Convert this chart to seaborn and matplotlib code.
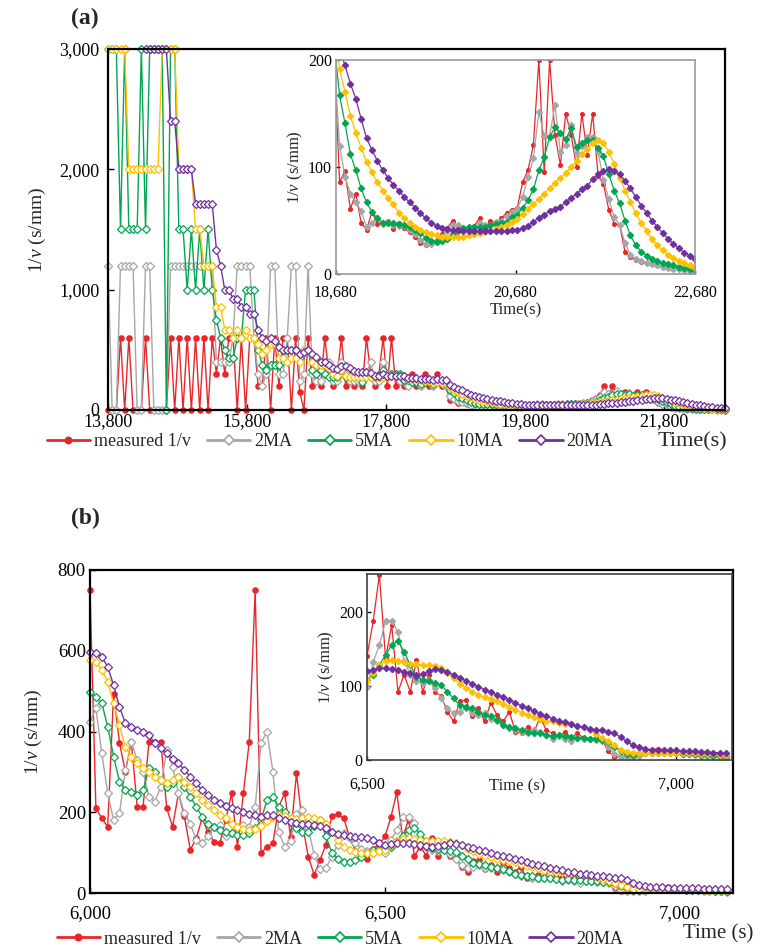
import numpy as np
import pandas as pd
import matplotlib
matplotlib.use("Agg")
import matplotlib.pyplot as plt
import seaborn as sns
from matplotlib.lines import Line2D

sns.set_theme(style="white")
plt.rcParams["font.family"] = ["Liberation Serif", "DejaVu Serif"]
plt.rcParams["mathtext.fontset"] = "custom"
plt.rcParams["mathtext.rm"] = "Liberation Serif"
plt.rcParams["mathtext.it"] = "Liberation Serif:italic"

NaN = float("nan")

# ---------------- data, panel (a): one sample every 60 s from 13,800 s ----------------
t_a_start, t_a_step = 13800, 60
measured_a = [0,0,0,600,0,600,0,0,0,600,
              0,0,0,0,0,600,0,600,0,600,
              0,600,0,600,0,600,300,600,300,600,
              600,0,600,0,600,600,200,200,600,0,
              600,200,600,600,0,600,150,0,600,200,
              300,200,600,300,200,300,600,200,300,200,
              300,200,600,300,200,300,600,200,600,200,
              300,200,200,300,200,200,300,200,200,300,
              200,200,86,96,61,75,48,41,58,47,
              48,50,42,48,43,39,35,29,27,30,
              32,37,43,50,43,42,41,45,52,42,
              50,48,52,57,60,62,86,97,121,200,
              95,200,130,102,150,130,100,150,111,150,
              92,84,60,47,46,21,16,13,11,10,
              9,8,7,6,5,5,4,3,2]
ma2_a = [1200,0,0,1200,1200,1200,1200,0,0,1200,
         1200,0,0,0,0,1200,1200,1200,1200,1200,
         1200,1200,1200,1200,1200,1200,400,400,400,400,
         600,1200,1200,1200,1200,600,300,200,300,1200,
         1200,300,300,600,1200,1200,240,300,1200,300,
         240,240,300,400,240,240,400,300,240,240,
         240,240,300,400,240,240,400,300,300,300,
         240,240,200,240,240,200,240,240,200,240,
         240,200,120,91,75,67,59,44,48,52,
         47,49,46,45,45,41,37,32,28,28,
         31,34,40,46,46,42,41,43,48,46,
         46,49,50,54,58,61,72,91,108,151,
         129,129,158,114,121,139,113,120,128,128,
         114,88,70,53,46,29,18,14,12,10,
         9,8,7,6,5,5,4,3,2]
ma5_a = [3000,3000,3000,1500,3000,1500,1500,1500,3000,1500,
         3000,3000,3000,3000,0,3000,3000,1500,1500,1000,
         1500,1000,1500,1000,1500,1000,750,600,500,429,
         429,600,600,1000,1000,1000,500,375,333,375,
         375,375,500,500,500,500,429,500,500,333,
         300,333,300,273,273,273,333,273,273,273,
         273,231,273,273,273,273,333,273,300,300,
         300,250,250,231,231,214,231,231,214,231,
         231,214,167,141,112,97,80,67,58,52,
         48,48,48,47,46,44,41,38,34,31,
         30,31,33,37,40,43,44,44,44,44,
         46,47,48,49,53,55,62,69,79,97,
         109,128,137,132,126,136,119,122,125,125,
         118,110,93,78,66,50,36,27,21,17,
         14,12,10,9,8,7,6,5,4]
ma10_a = [3000,3000,3000,3000,3000,2000,2000,2000,2000,2000,
          2000,2000,2000,3000,3000,3000,3000,2000,2000,2000,
          2000,1500,1500,1200,1200,1200,857,857,667,667,
          600,667,600,667,600,600,545,462,500,545,
          545,429,429,400,429,429,400,500,500,400,
          375,375,375,353,300,286,333,286,273,273,
          273,273,273,273,273,273,273,273,286,286,
          286,286,261,261,261,250,240,240,222,231,
          222,222,192,170,148,132,118,105,95,86,
          78,71,65,57,52,48,44,41,39,37,
          36,35,35,35,35,35,36,37,38,39,
          40,42,44,46,49,51,56,61,65,70,
          75,80,85,90,94,100,106,112,117,122,
          125,122,114,103,90,78,67,57,48,40,
          33,27,22,18,15,12,10,8,6]
ma20_a = [NaN,NaN,NaN,NaN,NaN,NaN,NaN,NaN,NaN,3000,
          3000,3000,3000,3000,3000,2400,2400,2000,2000,2000,
          2000,1714,1714,1714,1714,1714,1333,1200,1000,1000,
          923,923,857,857,800,800,667,600,571,600,
          571,522,500,500,500,500,462,480,500,462,
          444,400,400,375,353,343,364,364,353,324,
          316,316,316,308,286,279,300,279,279,279,
          279,279,267,267,267,261,255,255,250,255,
          250,250,210,195,178,164,145,127,116,106,
          97,90,83,78,72,67,62,57,52,48,
          45,43,42,41,41,40,40,40,40,40,
          40,40,40,40,41,41,43,45,49,52,
          55,59,61,63,67,71,75,79,82,89,
          93,96,98,96,93,87,80,72,64,57,
          50,44,38,33,28,24,20,17,14]

# ---------------- data, panel (b): one sample every 10 s from 6,000 s ----------------
t_b_start, t_b_step = 6000, 10
measured_b = [750,210,185,164,494,372,300,375,214,214,
              375,375,375,210,164,247,190,107,135,185,
              150,127,123,180,247,115,247,375,750,99,
              115,123,214,247,139,296,172,90,45,82,
              120,190,195,185,139,105,95,83,110,120,
              140,187,250,137,182,92,115,92,135,92,
              115,92,86,65,52,79,81,59,70,52,
              77,61,52,65,38,36,45,38,58,40,
              36,32,38,30,36,30,28,30,27,12,
              4,4,4,5,8,12,14,15,14,12,
              12,10,10,8,8,6,5,4,3]
ma2_b = [424,457,346,247,181,197,305,375,329,300,
         239,226,263,354,313,247,197,172,131,123,
         140,164,168,140,148,164,168,164,214,371,
         400,300,150,115,130,195,205,160,95,60,
         62,90,120,148,135,125,110,104,100,110,
         99,132,155,187,187,173,133,115,106,104,
         108,97,83,70,63,65,70,63,61,63,
         56,52,47,43,41,38,36,40,38,34,
         29,32,29,25,30,29,28,27,26,18,
         8,5,4,4,6,9,10,11,11,10,
         9,8,8,7,6,6,5,4,3]
ma5_b = [499,486,470,412,338,276,255,251,243,255,
         309,300,280,263,272,288,263,239,214,189,
         172,164,156,152,148,144,144,148,160,181,
         230,239,214,200,180,160,150,152,165,180,
         140,100,85,78,78,82,90,98,106,110,
         108,115,128,142,155,161,146,128,112,108,
         106,104,101,92,83,74,72,70,65,61,
         59,54,47,45,43,41,38,36,36,34,
         32,34,32,31,30,30,29,28,27,24,
         18,12,8,7,9,9,9,9,9,9,
         9,8,8,8,7,7,6,6,5]
ma10_b = [577,573,552,523,470,416,362,338,321,309,
          300,288,280,272,280,288,276,263,247,230,
          218,206,193,185,172,164,158,156,158,165,
          178,187,193,190,186,183,186,189,186,181,
          172,152,131,115,106,102,98,98,100,104,
          106,118,128,133,135,134,132,130,129,128,
          128,127,124,118,110,103,97,92,88,85,
          82,79,76,72,68,64,61,58,55,53,
          52,50,49,48,46,44,40,35,30,25,
          20,14,11,10,9,10,10,10,10,10,
          10,9,9,9,8,8,8,7,7]
ma20_b = [598,594,585,560,515,461,420,412,404,400,
          391,371,358,346,333,321,305,288,272,255,
          243,230,222,215,210,206,201,196,193,189,
          193,193,185,181,177,174,172,171,168,165,
          160,150,145,143,140,139,138,136,131,125,
          120,122,124,124,123,121,119,117,115,116,
          120,123,122,119,115,111,107,103,99,95,
          92,88,85,81,77,73,70,66,62,59,
          56,53,51,48,46,44,42,41,40,38,
          36,31,25,20,17,15,14,14,13,13,
          13,12,12,12,11,11,10,10,9]

series_names = ["measured 1/v", "2MA", "5MA", "10MA", "20MA"]
ticks_a_x = [13800, 15800, 17800, 19800, 21800]
ticks_a_y = [0, 1000, 2000, 3000]
ticks_ai_x = [18680, 20680, 22680]
ticks_ai_y = [0, 100, 200]
ticks_b_x = [6000, 6500, 7000]
ticks_b_y = [0, 200, 400, 600, 800]
ticks_bi_x = [6500, 7000]
ticks_bi_y = [0, 100, 200]

# ---------------- styling ----------------
colors = ["#E8262A", "#A6A6A6", "#00A651", "#FFC000", "#7030A0"]
markers = ["o", "D", "D", "D", "D"]

t_a = t_a_start + t_a_step * np.arange(len(measured_a))
t_b = t_b_start + t_b_step * np.arange(len(measured_b))
ser_a = [measured_a, ma2_a, ma5_a, ma10_a, ma20_a]
ser_b = [measured_b, ma2_b, ma5_b, ma10_b, ma20_b]

W, H = 762, 948
fig = plt.figure(figsize=(W / 100, H / 100), dpi=100)


def box(l, t, r, b):
    return [l / W, 1 - b / H, (r - l) / W, (b - t) / H]


def draw(ax, t, series, ms, lw, open_face, clip):
    for y, c, m in zip(series, colors, markers):
        df = pd.DataFrame({"t": t, "v": np.asarray(y, dtype=float)}).dropna()
        face = c if (m == "o" or not open_face) else "white"
        sns.lineplot(data=df, x="t", y="v", ax=ax, color=c, lw=lw, marker=m,
                     ms=ms if m == "D" else ms * 0.85, mfc=face, mec=c, mew=0.9,
                     estimator=None, sort=False, legend=False, clip_on=clip)


def fmt_tick(v):
    return f"{v:,}"


def style(ax, xt, yt, fs, spine_c, spine_w, ticklen=4, xpad=3, ypad=3):
    ax.set_xticks(xt)
    ax.set_xticklabels([fmt_tick(v) for v in xt])
    ax.set_yticks(yt)
    ax.set_yticklabels([fmt_tick(v) for v in yt])
    ax.tick_params(direction="in", length=ticklen, width=1, labelsize=fs, pad=ypad,
                   colors="black", bottom=True, left=True)
    ax.tick_params(axis="x", pad=xpad)
    for s in ax.spines.values():
        s.set_color(spine_c)
        s.set_linewidth(spine_w)
    ax.set_xlabel("")
    ax.set_ylabel("")
    ax.grid(False)


ylab = "1/$\\it{v}$ (s/mm)"

# ---------- panel (a) ----------
axa = fig.add_axes(box(108, 49, 725, 410))
draw(axa, t_a, ser_a, 4.5, 1.0, True, False)
axa.set_xlim(13800, 22680)
axa.set_ylim(0, 3000)
style(axa, ticks_a_x, ticks_a_y, 13, "black", 1.6, 4, 2, 6)
axa.set_ylabel(ylab, fontsize=14, labelpad=8)

axai = fig.add_axes(box(336, 60, 695, 274))
axai.set_facecolor("white")
draw(axai, t_a, ser_a, 3.2, 0.9, False, True)
axai.set_xlim(18680, 22680)
axai.set_ylim(0, 200)
style(axai, ticks_ai_x, ticks_ai_y, 11.5, "#9a9a9a", 1.2, 3, 8)
axai.set_ylabel(ylab, fontsize=12, labelpad=2)
axai.set_xlabel("Time(s)", fontsize=12, labelpad=1)

# ---------- panel (b) ----------
axb = fig.add_axes(box(90, 570, 733, 893))
draw(axb, t_b, ser_b, 4.5, 1.0, True, False)
axb.set_xlim(6000, 7090)
axb.set_ylim(0, 800)
style(axb, ticks_b_x, ticks_b_y, 13.5, "black", 1.6, 4, 9)
axb.set_ylabel(ylab, fontsize=14, labelpad=10)

axbi = fig.add_axes(box(367, 574, 732, 760))
axbi.set_facecolor("white")
draw(axbi, t_b, ser_b, 3.2, 0.9, False, True)
axbi.set_xlim(6500, 7090)
axbi.set_ylim(0, 251)
style(axbi, ticks_bi_x, ticks_bi_y, 11.5, "#404040", 1.2, 3, 12)
axbi.set_ylabel(ylab, fontsize=12, labelpad=2)
fig.text(517 / W, 1 - 786 / H, "Time (s)", fontsize=12, ha="center", va="center")


# ---------- legends & labels ----------
def handles():
    hs = []
    for n, c, m in zip(series_names, colors, markers):
        hs.append(Line2D([0], [0], color=c, lw=2, marker=m,
                         ms=5 if m == "D" else 4.5,
                         mfc=c if m == "o" else "white", mec=c, mew=1.2, label=n))
    return hs


fig.legend(handles=handles(), loc="center", bbox_to_anchor=(330 / W, 1 - 442 / H),
           ncol=5, frameon=False, fontsize=13, handlelength=2.4, handletextpad=0.2,
           columnspacing=0.9, borderaxespad=0)
fig.text(692 / W, 1 - 442 / H, "Time(s)", fontsize=16, ha="center", va="center")

fig.legend(handles=handles(), loc="center", bbox_to_anchor=(340 / W, 1 - 939 / H),
           ncol=5, frameon=False, fontsize=13, handlelength=2.4, handletextpad=0.2,
           columnspacing=0.9, borderaxespad=0)
fig.text(718 / W, 1 - 934 / H, "Time (s)", fontsize=15, ha="center", va="center")

fig.text(85 / W, 1 - 18 / H, "(a)", fontsize=17, fontweight="bold", ha="center", va="center")
fig.text(85 / W, 1 - 518 / H, "(b)", fontsize=17, fontweight="bold", ha="center", va="center")

fig.savefig("out.png", dpi=100, facecolor="white")
